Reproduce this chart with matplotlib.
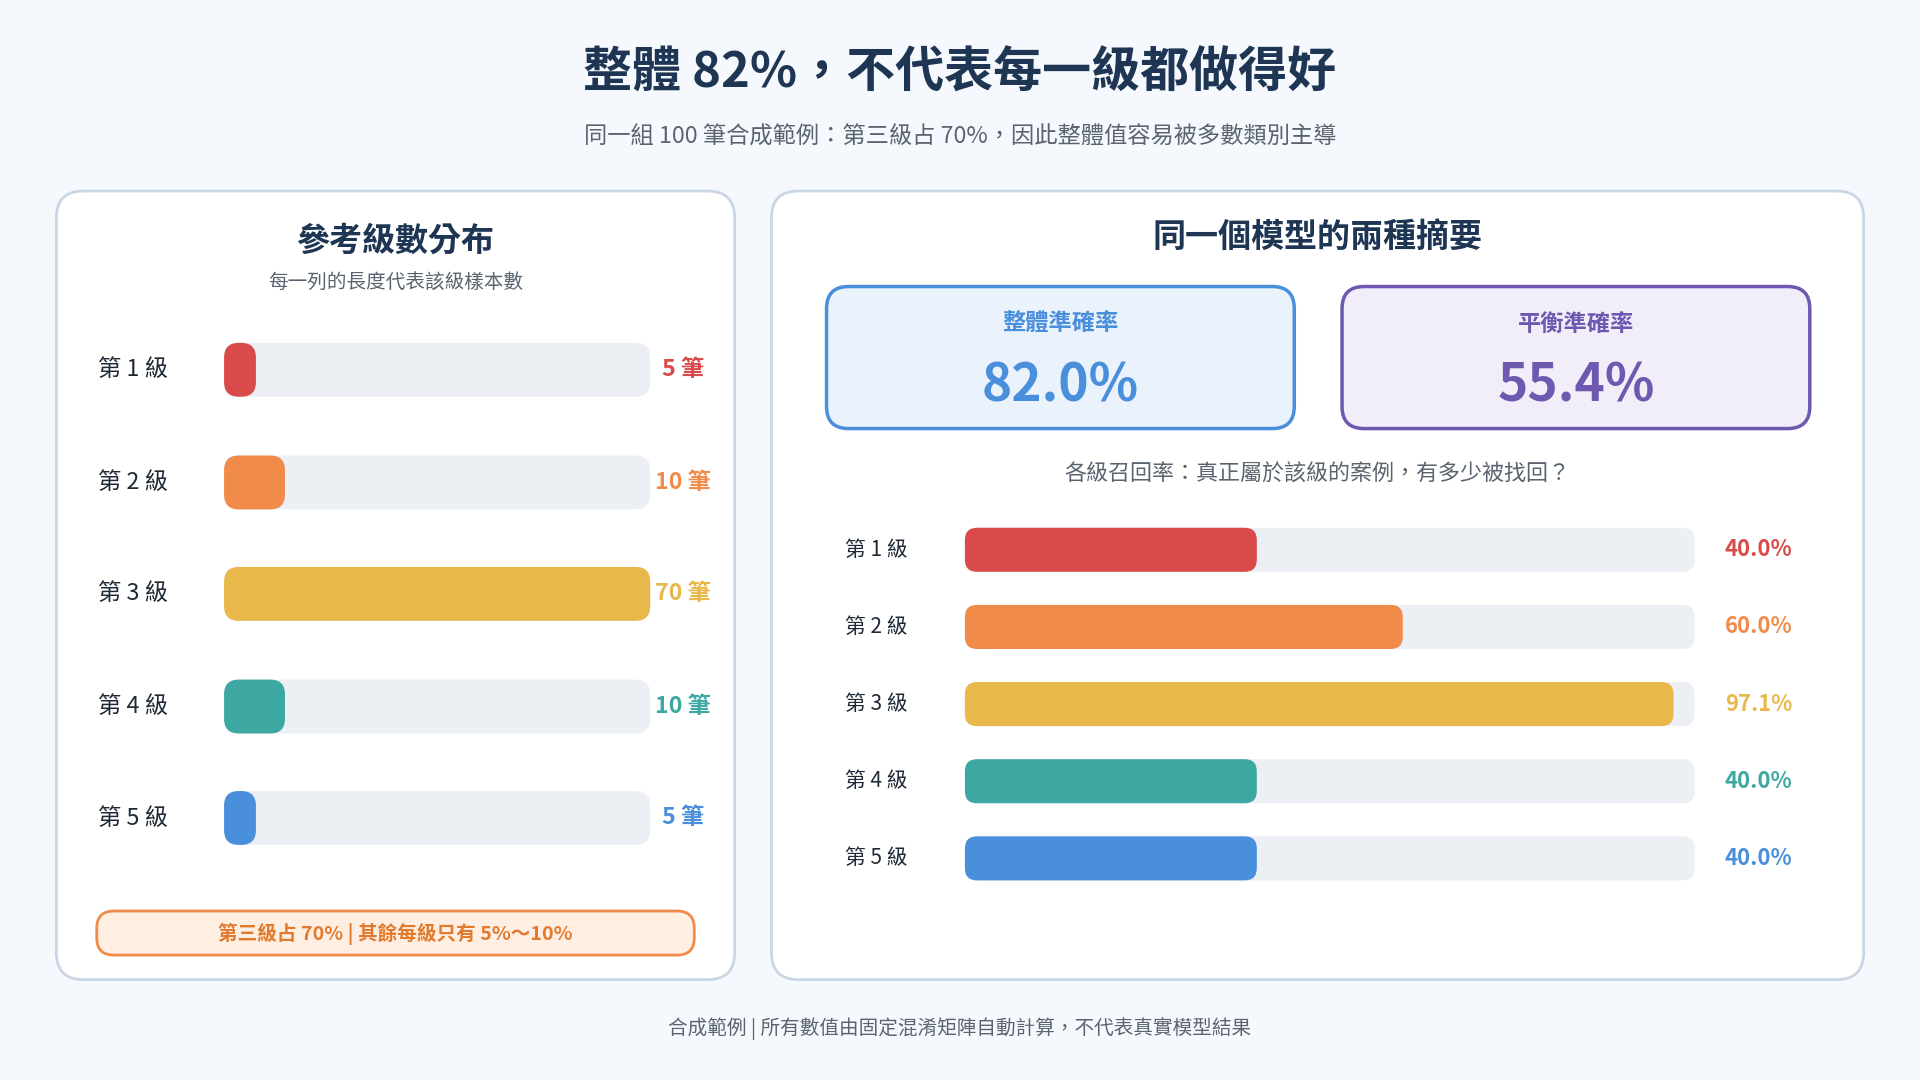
import matplotlib
matplotlib.use("Agg")
import matplotlib.pyplot as plt
from matplotlib.patches import FancyBboxPatch

plt.rcParams['font.family'] = ['Noto Sans CJK TC', 'DejaVu Sans']

# ---- data ----
classes = ["第 1 級", "第 2 級", "第 3 級", "第 4 級", "第 5 級"]
counts = [5, 10, 70, 10, 5]
recall = [40.0, 60.0, 97.1, 40.0, 40.0]
overall_acc = 82.0
balanced_acc = 55.4
colors = ["#D94B4B", "#F08B4A", "#E8B84A", "#3DA8A2", "#4A8FDB"]

# layout in reference pixel units (1568 x 882)
W, H = 1568, 882
S = 1920 / W


def fs(px):
    return px * S * 0.72


fig = plt.figure(figsize=(19.2, 10.8), dpi=100)
fig.patch.set_facecolor("#F5F8FC")
ax = fig.add_axes([0, 0, 1, 1])
ax.set_xlim(0, W)
ax.set_ylim(H, 0)
ax.axis("off")

NAVY = "#1E3653"
GREY = "#5A6470"


def rbox(x0, y0, w, h, r, fc, ec="none", lw=0, z=1):
    ax.add_patch(FancyBboxPatch((x0 + r, y0 + r), max(w - 2 * r, 0.01), h - 2 * r,
                                boxstyle=f"round,pad={r}", fc=fc, ec=ec, lw=lw, zorder=z))


# titles
ax.text(W / 2, 60, "整體 82%，不代表每一級都做得好", ha="center", va="center",
        fontsize=fs(40), fontweight="bold", color=NAVY)
ax.text(W / 2, 112, "同一組 100 筆合成範例：第三級占 70%，因此整體值容易被多數類別主導",
        ha="center", va="center", fontsize=fs(19), color=GREY)
ax.text(W / 2, 840, "合成範例 | 所有數值由固定混淆矩陣自動計算，不代表真實模型結果",
        ha="center", va="center", fontsize=fs(16), color=GREY)

# panels
rbox(46, 156, 554, 644, 22, "white", "#C9D6E6", 2)
rbox(630, 156, 892, 644, 22, "white", "#C9D6E6", 2)

# ---- left panel ----
ax.text(323, 197, "參考級數分布", ha="center", va="center", fontsize=fs(27),
        fontweight="bold", color=NAVY)
ax.text(323, 231, "每一列的長度代表該級樣本數", ha="center", va="center",
        fontsize=fs(16), color=GREY)
lx0, lx1 = 183, 531
cmax = max(counts)
ly = [302, 394, 485, 577, 668]
for name, c, col, y in zip(classes, counts, colors, ly):
    ax.text(80, y, name, ha="left", va="center", fontsize=fs(19), color="#1F2A36")
    rbox(lx0, y - 22, lx1 - lx0, 44, 12, "#ECEFF3", z=2)
    w = max((lx1 - lx0) * c / cmax, 26)
    rbox(lx0, y - 22, w, 44, 12, col, z=3)
    ax.text(558, y, f"{c} 筆", ha="center", va="center", fontsize=fs(19),
            fontweight="bold", color=col)

rbox(79, 744, 488, 36, 14, "#FFEEE2", "#F08B4A", 2)
ax.text(323, 763, "第三級占 70% | 其餘每級只有 5%～10%", ha="center", va="center",
        fontsize=fs(16), fontweight="bold", color="#E27A2E")

# ---- right panel ----
ax.text(1076, 194, "同一個模型的兩種摘要", ha="center", va="center", fontsize=fs(27),
        fontweight="bold", color=NAVY)
kpis = [("整體準確率", overall_acc, 675, "#EAF2FB", "#4A8FDB", "#4A8FDB"),
        ("平衡準確率", balanced_acc, 1096, "#F1EEFA", "#6E58B0", "#6E58B0")]
for lab, v, x0, fc, ec, tc in kpis:
    rbox(x0, 234, 382, 116, 18, fc, ec, 2.5)
    ax.text(x0 + 191, 265, lab, ha="center", va="center", fontsize=fs(19),
            fontweight="bold", color=tc)
    ax.text(x0 + 191, 315, f"{v:.1f}%", ha="center", va="center", fontsize=fs(42),
            fontweight="bold", color=tc)

ax.text(1076, 388, "各級召回率：真正屬於該級的案例，有多少被找回？", ha="center",
        va="center", fontsize=fs(18), color=GREY)
rx0, rx1 = 788, 1384
ry = [449, 512, 575, 638, 701]
for name, r, col, y in zip(classes, recall, colors, ry):
    ax.text(690, y, name, ha="left", va="center", fontsize=fs(17), color="#1F2A36")
    rbox(rx0, y - 18, rx1 - rx0, 36, 10, "#ECEFF3", z=2)
    rbox(rx0, y - 18, (rx1 - rx0) * r / 100, 36, 10, col, z=3)
    ax.text(1436, y, f"{r:.1f}%", ha="center", va="center", fontsize=fs(18),
            fontweight="bold", color=col)

fig.savefig("out.png", dpi=100, facecolor=fig.get_facecolor())
